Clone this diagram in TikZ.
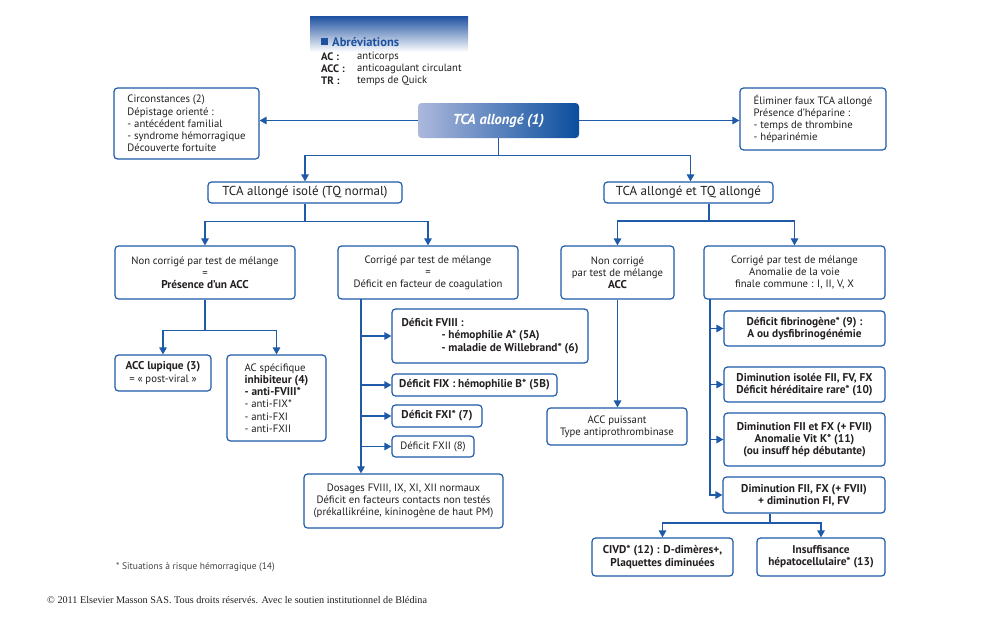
\documentclass[tikz,border=0pt]{standalone}
\usepackage{fontspec}
\setmainfont{PT Sans}
\newfontfamily\serifcopy{Liberation Serif}
\usetikzlibrary{arrows.meta}
\definecolor{lineblue}{RGB}{30,90,168}
\definecolor{txt}{RGB}{35,31,32}
\definecolor{tcaL}{RGB}{172,184,220}
\definecolor{tcaR}{RGB}{10,78,158}
\definecolor{abbr}{RGB}{30,80,160}
\newcommand\B[1]{{\fontsize{11.3}{12.2}\selectfont\bfseries #1}}
\tikzset{
  box/.style={draw=lineblue, line width=1.2pt, rounded corners=3.5pt, fill=white,
    inner sep=0pt, align=center, text=txt, font=\fontsize{10.7}{12.2}\selectfont},
  boxb/.style={box, font=\fontsize{11.3}{12.2}\selectfont\bfseries},
  lvltwo/.style={box, font=\fontsize{13}{15}\selectfont},
  line/.style={draw=lineblue, line width=1.3pt},
  arr/.style={line, -{Triangle[length=7pt,width=7.5pt]}},
  abtxt/.style={anchor=west, inner sep=0pt, text=txt, font=\fontsize{10.6}{12}\selectfont},
}
\begin{document}
\begin{tikzpicture}[x=1pt,y=-1pt]
\fill[white] (0,0) rectangle (1000,629);
\useasboundingbox (0,0) rectangle (1000,629);

% abbreviations
\shade[top color=abbr, bottom color=white] (310,16) rectangle (468,52);
\fill[abbr] (321,38) rectangle (328,45);
\node[anchor=west, inner sep=0pt, text=abbr, font=\fontsize{12.5}{14}\selectfont\bfseries] (abt) at (332,42) {Abréviations};
\node[abtxt, font=\fontsize{10.8}{12}\selectfont\bfseries] (ab1) at (321,57) {AC :};
\node[abtxt, font=\fontsize{10.8}{12}\selectfont\bfseries] (ab2) at (321,69) {ACC :};
\node[abtxt, font=\fontsize{10.8}{12}\selectfont\bfseries] (ab3) at (321,81) {TR :};
\node[abtxt] (abv1) at (357,57) {anticorps};
\node[abtxt] (abv2) at (357,69) {anticoagulant circulant};
\node[abtxt] (abv3) at (357,81) {temps de Quick};

% top
\node[draw=none, rounded corners=3.5pt, left color=tcaL, right color=tcaR,
  minimum width=161pt, minimum height=35pt, inner sep=0pt, text=white,
  font=\fontsize{14.5}{16}\selectfont\bfseries\itshape] (tca) at (498.5,120.5) {TCA allongé (1)};
\node[box, align=left, minimum width=145pt, minimum height=71pt] (circ) at (186.5,123.5)
  {Circonstances (2)\\Dépistage orienté :\\- antécédent familial\\- syndrome hémorragique\\Découverte fortuite};
\node[box, align=left, minimum width=146pt, minimum height=62pt] (elim) at (813,119)
  {Éliminer faux TCA allongé\\Présence d’héparine :\\- temps de thrombine\\- héparinémie};

% level 2
\node[lvltwo, minimum width=194pt, minimum height=21pt] (iso) at (305,192.5) {TCA allongé isolé (TQ normal)};
\node[lvltwo, minimum width=169pt, minimum height=21pt] (tqa) at (688.5,192.5) {TCA allongé et TQ allongé};

% level 3
\node[box, minimum width=180pt, minimum height=53pt] (ncor) at (205,272.5)
  {Non corrigé par test de mélange\\=\\\B{Présence d’un ACC}};
\node[box, minimum width=180pt, minimum height=53pt] (cor) at (428,272.5)
  {Corrigé par test de mélange\\=\\Déficit en facteur de coagulation};
\node[box, minimum width=113pt, minimum height=53pt] (ncor2) at (617.5,272.5)
  {Non corrigé\\par test de mélange\\\B{ACC}};
\node[box, minimum width=181pt, minimum height=53pt] (cor2) at (794.5,272.5)
  {Corrigé par test de mélange\\Anomalie de la voie\\finale commune : I, II, V, X};

% left branch
\node[box, minimum width=96pt, minimum height=36pt] (lup) at (163,373)
  {\B{ACC lupique (3)}\\= « post-viral »};
\node[box, align=left, minimum width=99pt, minimum height=86pt] (acs) at (276.5,398)
  {AC spécifique\\\B{inhibiteur (4)}\\\B{- anti-FVIII*}\\- anti-FIX*\\- anti-FXI\\- anti-FXII};

% middle branch
\node[boxb, align=left, minimum width=196pt, minimum height=54pt] (f8) at (490,336)
  {Déficit FVIII :\\\hspace*{40pt}- hémophilie A* (5A)\\\hspace*{40pt}- maladie de Willebrand* (6)};
\node[boxb, minimum width=165pt, minimum height=22pt] (f9) at (474.5,385) {Déficit FIX : hémophilie B* (5B)};
\node[boxb, minimum width=90pt, minimum height=22pt] (f11) at (437,416) {Déficit FXI* (7)};
\node[box, minimum width=82pt, minimum height=21pt] (f12) at (433,446.5) {Déficit FXII (8)};
\node[box, minimum width=199pt, minimum height=54pt] (dos) at (403.5,501)
  {Dosages FVIII, IX, XI, XII normaux\\Déficit en facteurs contacts non testés\\(prékallikréine, kininogène de haut PM)};

% right branch
\node[box, minimum width=140pt, minimum height=37pt] (accp) at (617,426.5)
  {ACC puissant\\Type antiprothrombinase};
\node[boxb, minimum width=161pt, minimum height=35pt] (fib) at (804.5,328.5)
  {Déficit fibrinogène* (9) :\\A ou dysfibrinogénémie};
\node[boxb, minimum width=161pt, minimum height=35pt] (dimi) at (804.5,384.5)
  {Diminution isolée FII, FV, FX\\Déficit héréditaire rare* (10)};
\node[boxb, minimum width=161pt, minimum height=53pt] (dim2) at (804.5,439.5)
  {Diminution FII et FX (+ FVII)\\Anomalie Vit K* (11)\\(ou insuff hép débutante)};
\node[boxb, minimum width=162pt, minimum height=36pt] (dim3) at (804,495)
  {Diminution FII, FX (+ FVII)\\+ diminution FI, FV};
\node[boxb, minimum width=141pt, minimum height=38pt] (civd) at (662.5,557)
  {CIVD* (12) : D-dimères+,\\Plaquettes diminuées};
\node[boxb, minimum width=128pt, minimum height=38pt] (insuf) at (821,557)
  {Insuffisance\\hépatocellulaire* (13)};

% notes
\node[anchor=west, inner sep=0pt, text=txt!85, font=\fontsize{9.5}{11}\selectfont] (foot) at (116,567)
  {* Situations à risque hémorragique (14)};
\node[anchor=west, inner sep=0pt, text=txt, font=\serifcopy\fontsize{10.2}{12}\selectfont] (copy) at (47,600)
  {© 2011 Elsevier Masson SAS. Tous droits réservés. Avec le soutien institutionnel de Blédina};

% connectors
\draw[arr] (tca.west) -- (tca.west -| circ.east);
\draw[arr] (tca.east) -- (tca.east -| elim.west);
\draw[arr] (tca.south) -- ++(0,17.5) -| (iso.north);
\draw[arr] (tca.south) -- ++(0,17.5) -| ([xshift=2pt]tqa.north);

\draw[line] (iso.south) -- ++(0,18) coordinate (isoj);
\draw[arr] (isoj) -| (ncor.north);
\draw[arr] (isoj) -| (cor.north);
\coordinate (tqaj) at (709,221);
\draw[line] (tqaj |- tqa.south) -- (tqaj);
\draw[arr] (tqaj) -| (ncor2.north);
\draw[arr] (tqaj) -| (cor2.north);

\draw[line] (ncor.south) -- ++(0,31) coordinate (ncj);
\draw[arr] (ncj) -| (lup.north);
\draw[arr] (ncj) -| (acs.north);

\coordinate (mt) at (361,299);
\draw[arr] (mt) -- (mt |- dos.north);
\foreach \n in {f8,f9,f11,f12} \draw[arr] (mt |- \n.west) -- (\n.west);

\draw[arr] (ncor2.south) -- (ncor2.south |- accp.north);

\coordinate (rt) at (710,299);
\draw[arr] (rt) |- (dim3.west);
\foreach \n in {fib,dimi,dim2} \draw[arr] (rt |- \n.west) -- (\n.west);

\coordinate (dj) at (770,523);
\draw[line] (dj |- dim3.south) -- (dj);
\draw[arr] (dj) -| (civd.north);
\draw[arr] (dj) -| (insuf.north);
\end{tikzpicture}
\end{document}
